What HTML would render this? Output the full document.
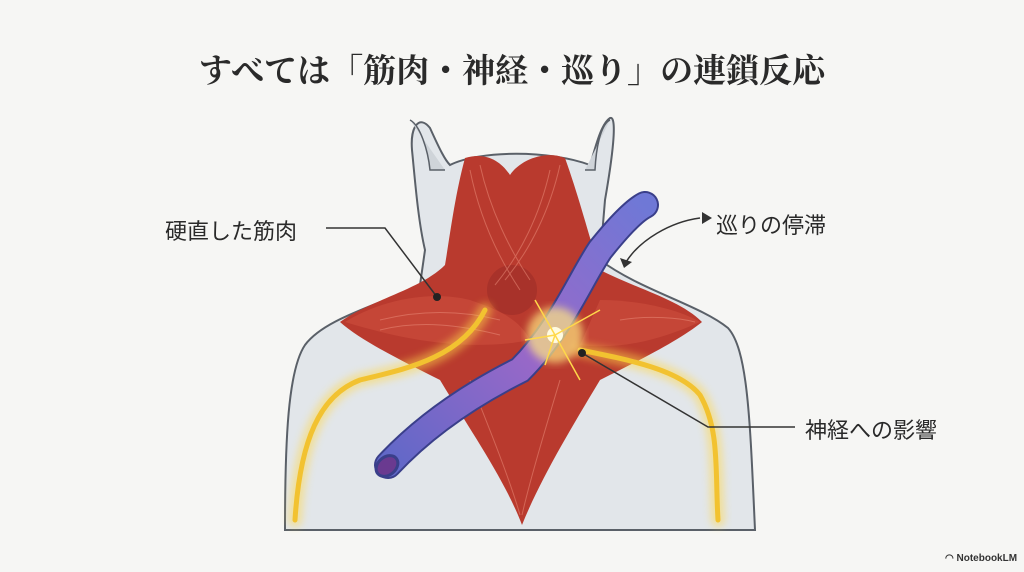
<!DOCTYPE html>
<html><head><meta charset="utf-8"><style>
html,body{margin:0;padding:0;background:#f6f6f4;}
body{width:1024px;height:572px;position:relative;overflow:hidden;font-family:"Liberation Sans","Noto Sans CJK JP",sans-serif;}
.t{position:absolute;color:#2a2a2a;white-space:nowrap;}
</style></head><body>
<div class="t" style="left:0;width:1024px;top:45px;text-align:center;font-family:'Liberation Serif','Noto Serif CJK SC',serif;font-weight:bold;font-size:33px;">すべては「筋肉・神経・巡り」の連鎖反応</div>
<svg width="1024" height="572" style="position:absolute;left:0;top:0">
<defs>
<filter id="g"><feGaussianBlur stdDeviation="4"/></filter>
<linearGradient id="v" x1="0" y1="1" x2="1" y2="0"><stop offset="0" stop-color="#6068c8"/><stop offset="0.5" stop-color="#9a68c8"/><stop offset="1" stop-color="#6f78d6"/></linearGradient>
</defs>
<!-- body -->
<path d="M285,530 C285,440 288,370 305,345 C325,318 380,305 420,285 L425,250 C418,220 415,180 412,150 C410,125 420,115 430,128 C440,150 445,160 450,165 C480,150 550,150 590,165 C595,150 600,125 610,118 C618,115 612,160 605,200 L600,260 C640,290 700,305 728,328 C748,350 750,420 755,530 Z" fill="#e2e6ea" stroke="#5a6068" stroke-width="2"/>
<path d="M410,120 C420,125 428,150 430,170 L445,170" fill="#cfd4d9" stroke="#5a6068" stroke-width="1.5"/>
<path d="M610,120 C600,125 596,150 595,170 L585,170" fill="#cfd4d9" stroke="#5a6068" stroke-width="1.5"/>
<!-- muscles -->
<path d="M340,322 C370,300 420,290 445,265 C450,235 455,195 465,158 C485,152 500,160 510,175 C520,160 545,150 565,158 C580,200 590,240 600,270 C640,290 680,300 702,322 C680,340 640,360 600,380 C570,430 540,480 522,525 C505,480 470,430 440,380 C400,360 360,340 340,322 Z" fill="#b93a2e"/>
<path d="M345,322 C380,300 430,290 470,300 C500,310 520,320 530,340 C480,350 420,345 345,322Z" fill="#c84a3a" opacity=".8"/>
<path d="M600,300 C640,300 680,310 700,322 C660,340 620,350 580,345Z" fill="#c84a3a" opacity=".8"/>
<circle cx="512" cy="290" r="25" fill="#a8322a"/>
<g stroke="#e98a78" stroke-width="1" opacity=".55" fill="none">
<path d="M470,170 C480,220 500,260 520,290"/><path d="M480,165 C490,210 510,250 530,280"/><path d="M560,165 C550,210 530,250 505,280"/><path d="M550,170 C540,215 520,255 495,285"/>
<path d="M380,320 C420,310 460,310 500,320"/><path d="M380,330 C420,320 460,325 500,335"/><path d="M620,320 C650,315 680,318 695,322"/>
<path d="M470,380 C490,430 510,480 520,515"/><path d="M560,380 C545,430 530,480 522,515"/>
</g>
<!-- nerves -->
<g fill="none" stroke-linecap="round">
<path d="M485,310 C460,360 400,370 360,380 C320,395 300,440 295,520" stroke="#ffd84a" stroke-width="14" opacity=".5" filter="url(#g)"/>
<path d="M485,310 C460,360 400,370 360,380 C320,395 300,440 295,520" stroke="#f2c230" stroke-width="5"/>
<path d="M580,350 C630,360 680,370 700,395 C720,430 715,470 718,520" stroke="#ffd84a" stroke-width="14" opacity=".5" filter="url(#g)"/>
<path d="M580,350 C630,360 680,370 700,395 C720,430 715,470 718,520" stroke="#f2c230" stroke-width="5"/>
</g>
<!-- vein -->
<path d="M388,465 C430,420 480,390 520,370 C560,330 580,280 600,250 C620,225 635,210 645,205" fill="none" stroke="#3a3f8a" stroke-width="28" stroke-linecap="round"/>
<path d="M388,465 C430,420 480,390 520,370 C560,330 580,280 600,250 C620,225 635,210 645,205" fill="none" stroke="url(#v)" stroke-width="24" stroke-linecap="round"/>
<ellipse cx="387" cy="466" rx="12" ry="9" transform="rotate(-40 387 466)" fill="#6a3a90" stroke="#3a3f8a" stroke-width="3"/>
<!-- spark -->
<circle cx="555" cy="335" r="28" fill="#ffe680" opacity=".7" filter="url(#g)"/>
<circle cx="555" cy="335" r="8" fill="#fffbe0"/>
<g stroke="#ffd84a" stroke-width="1.5"><path d="M555,335 L535,300"/><path d="M555,335 L600,310"/><path d="M555,335 L580,380"/><path d="M555,335 L525,340"/><path d="M555,335 L545,365"/></g>
<!-- leaders -->
<g stroke="#333" stroke-width="1.5" fill="none">
<path d="M326,228 L385,228 L437,297"/>
<path d="M795,427 L708,427 L582,353"/>
<path d="M700,218 C670,222 640,240 626,262"/>
</g>
<circle cx="437" cy="297" r="4" fill="#222"/>
<circle cx="582" cy="353" r="4" fill="#222"/>
<path d="M702,212 L712,218 L702,224Z" fill="#333"/>
<path d="M620,258 L624,268 L632,262Z" fill="#333"/>
</svg>
<div class="t" style="left:165px;top:214px;font-size:22px;">硬直した筋肉</div>
<div class="t" style="left:716px;top:208px;font-size:22px;">巡りの停滞</div>
<div class="t" style="left:805px;top:413px;font-size:22px;">神経への影響</div>
<div class="t" style="left:945px;top:553px;font-size:10px;font-weight:bold;color:#333;">◠ NotebookLM</div>
</body></html>
